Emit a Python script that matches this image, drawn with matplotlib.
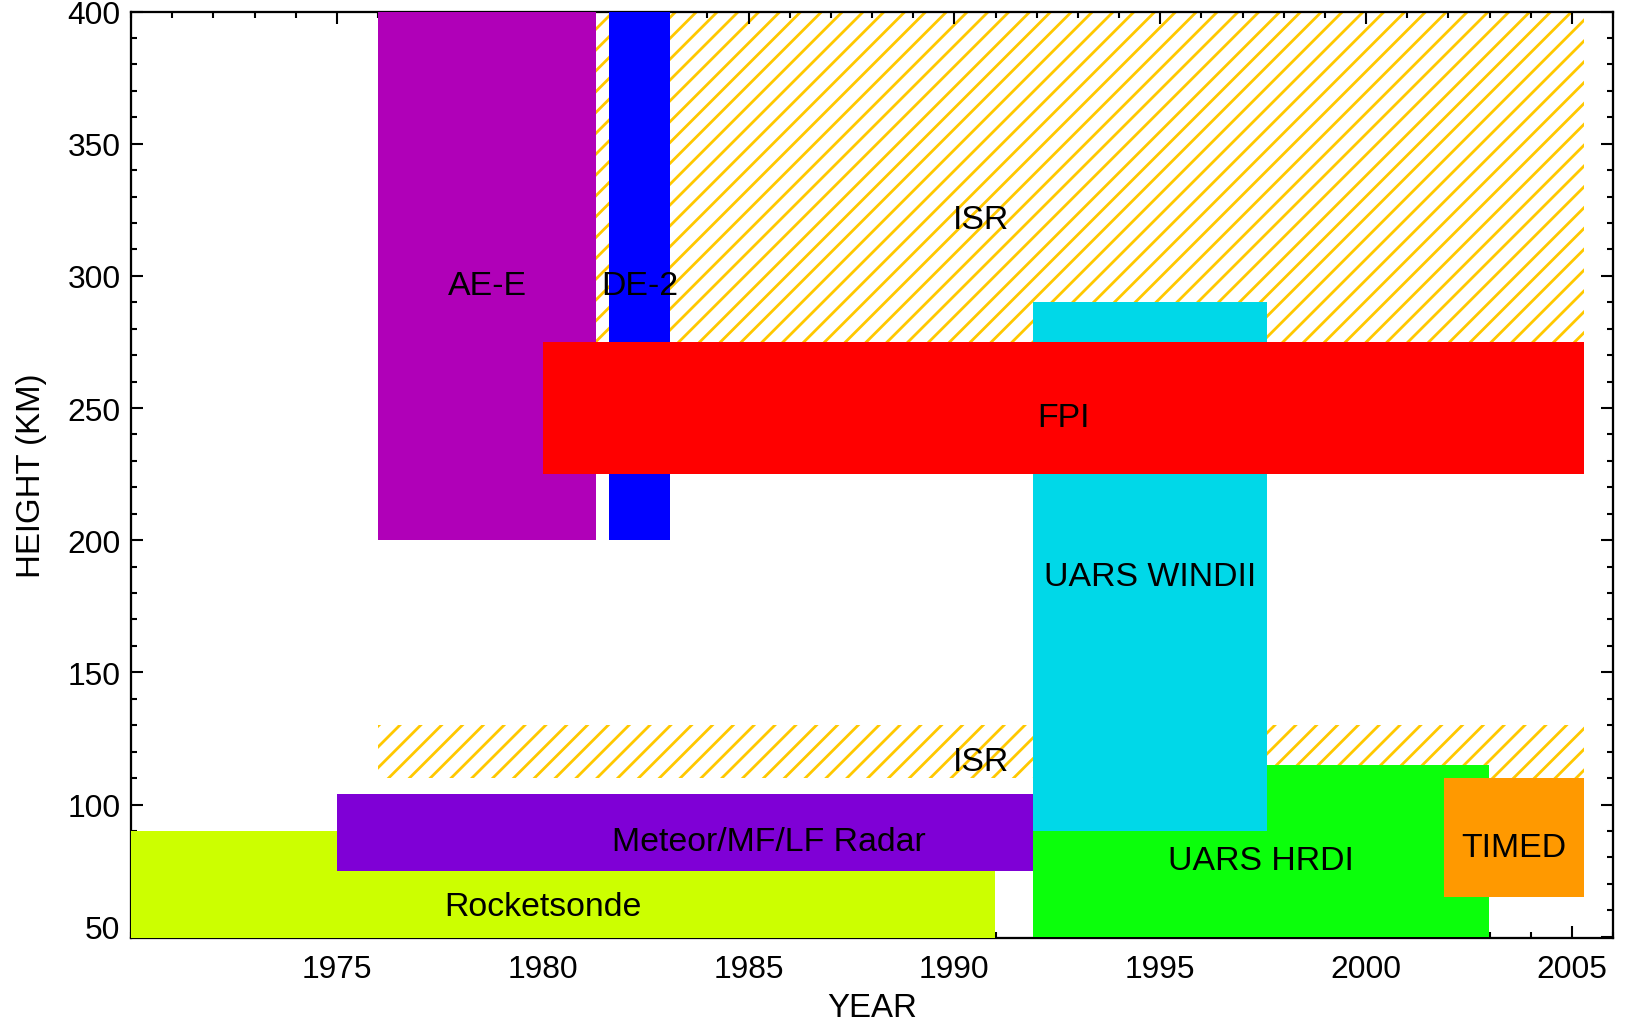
import matplotlib

matplotlib.use("Agg")
import matplotlib.pyplot as plt
from matplotlib.ticker import MultipleLocator
from matplotlib.transforms import ScaledTranslation

plt.rcParams["font.family"] = ["Liberation Sans", "DejaVu Sans"]
plt.rcParams["hatch.linewidth"] = 1.6

# instrument coverage: years and heights (km)
names = ["ISR", "ISR", "Rocketsonde", "Meteor/MF/LF Radar", "AE-E", "DE-2",
         "UARS HRDI", "UARS WINDII", "FPI", "TIMED"]
year_start = [1976.0, 1976.0, 1969.0, 1975.0, 1976.0, 1981.6,
              1991.9, 1991.9, 1980.0, 2001.9]
year_end = [2005.3, 2005.3, 1991.0, 1996.0, 1981.3, 1983.1,
            2003.0, 1997.6, 2005.3, 2005.3]
height_low = [250, 110, 40, 75, 200, 200, 50, 90, 225, 65]
height_high = [400, 130, 90, 104, 400, 400, 115, 290, 275, 110]
colors = [None, None, "#CCFF00", "#7F00D6", "#B000B8", "#0000FF",
          "#0BFF0B", "#00D8E8", "#FF0000", "#FF9900"]

year_ticks = [1975, 1980, 1985, 1990, 1995, 2000, 2005]
height_ticks = [50, 100, 150, 200, 250, 300, 350, 400]

DPI = 125
fig = plt.figure(figsize=(1627 / DPI, 1023 / DPI), dpi=DPI)
ax = fig.add_axes([131 / 1627, 1 - 939 / 1023, 1482 / 1627, 926.5 / 1023])

for i, name in enumerate(names):
    x0, x1 = year_start[i], year_end[i]
    y0, y1 = height_low[i], height_high[i]
    if colors[i] is None:
        # ISR: hatched region
        ax.bar(x0, y1 - y0, width=x1 - x0, bottom=y0, align="edge",
               facecolor="none", edgecolor="#FFC800", hatch="//",
               linewidth=0, zorder=1)
    else:
        ax.bar(x0, y1 - y0, width=x1 - x0, bottom=y0, align="edge",
               color=colors[i], linewidth=0, zorder=2 + i)
    ax.annotate(name, ((x0 + x1) / 2, (y0 + y1) / 2), xytext=(0, -5.5),
                textcoords="offset points", ha="center", va="center",
                fontsize=19.5, zorder=20, annotation_clip=False)

ax.set_xlim(1970, 2006)
ax.set_ylim(49.5, 400)
ax.set_xticks(year_ticks)
ax.set_yticks(height_ticks)
ax.xaxis.set_minor_locator(MultipleLocator(1))
ax.yaxis.set_minor_locator(MultipleLocator(10))
ax.tick_params(which="both", direction="in", top=True, right=True,
               width=1.2, color="black")
ax.tick_params(which="major", length=6.9)
ax.tick_params(which="minor", length=3.5)
ax.tick_params(axis="x", which="major", labelsize=18.3, pad=9.5)
ax.tick_params(axis="y", which="major", labelsize=18.3, pad=6)
for s in ax.spines.values():
    s.set_linewidth(1.3)

# the lowest height label sits a bit above its tick
lab = ax.get_yticklabels()[0]
lab.set_transform(lab.get_transform() + ScaledTranslation(0, 6 / 72, fig.dpi_scale_trans))

ax.set_xlabel("YEAR", fontsize=19, labelpad=4.5)
ax.set_ylabel("HEIGHT (KM)", fontsize=19, labelpad=11.5)

fig.savefig("out.png", dpi=DPI)
